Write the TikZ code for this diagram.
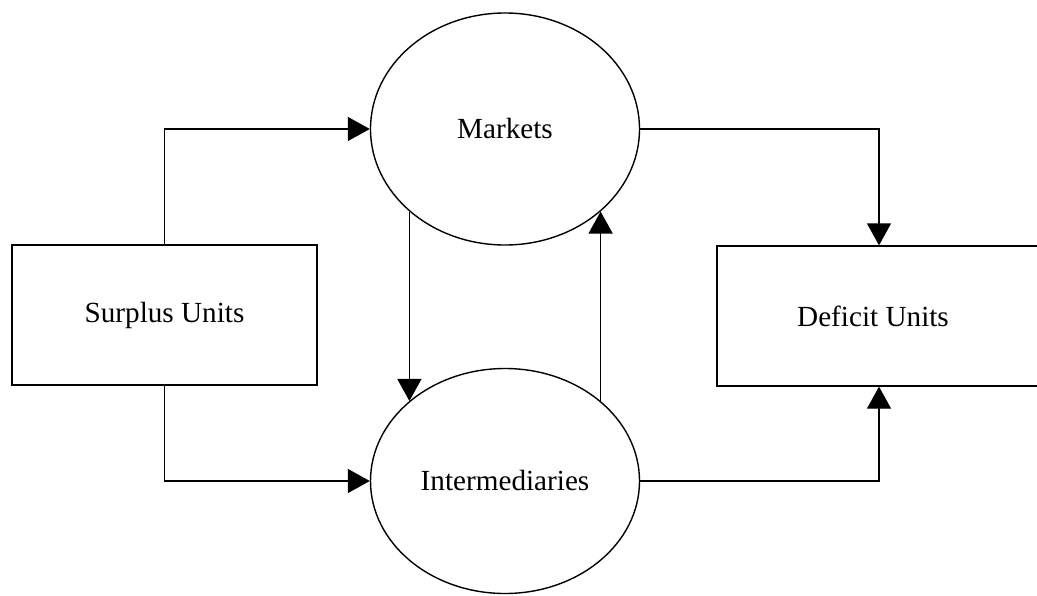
\documentclass[tikz,border=0pt]{standalone}
\usepackage{fontspec}
\setmainfont{Liberation Serif}
\usetikzlibrary{shapes.geometric, arrows.meta, positioning}

\begin{document}
\begin{tikzpicture}[
  x=0.5pt, y=-0.5pt,
  unitbox/.style={draw, line width=0.7pt, minimum width=#1, minimum height=70pt,
                  inner sep=0pt, font=\fontsize{14.6}{17}\selectfont},
  flow/.style={draw, ellipse, line width=0.7pt, minimum width=134.5pt, minimum height=#1,
               inner sep=0pt, font=\fontsize{14.6}{17}\selectfont},
  arr/.style={-{Triangle[length=11pt, width=12pt]}, line width=0.7pt},
]
  \useasboundingbox (0,0) rectangle (1037,595);

  \node[unitbox=152.5pt] (su) at (164.5,315) {Surplus Units};
  \node[flow=116pt]      (mk) at (505,129)   {Markets};
  \node[flow=112.5pt]    (im) at (505,481)   {Intermediaries};
  \node[unitbox=162pt]   (de) at (879,316)   {\hspace*{-6pt}Deficit Units};

  \draw[arr] (su.north) |- (mk.west);
  \draw[arr] (su.south) |- (im.west);
  \draw[arr] (mk.south west) -- (im.north west);
  \draw[arr] (im.north east) -- (mk.south east);
  \draw[arr] (mk.east) -| (de.north);
  \draw[arr] (im.east) -| (de.south);
\end{tikzpicture}
\end{document}
